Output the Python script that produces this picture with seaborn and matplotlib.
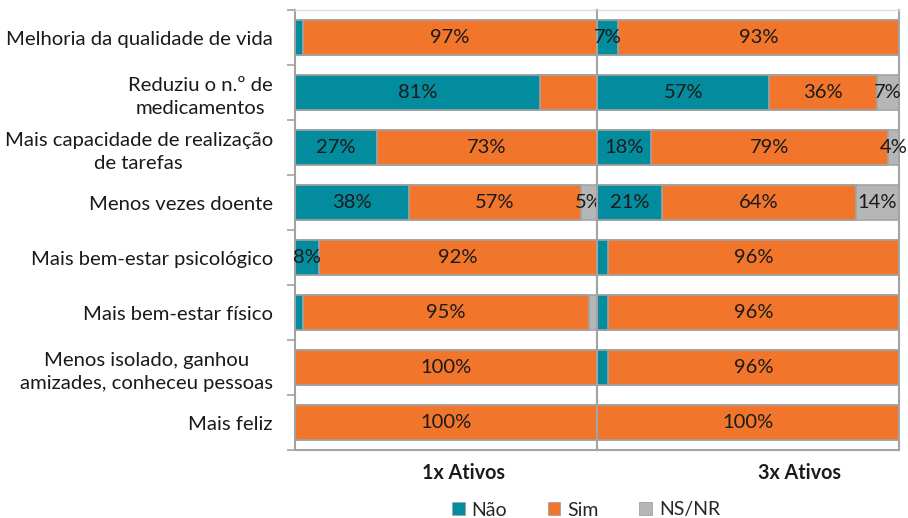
import numpy as np
import seaborn as sns
import matplotlib.pyplot as plt
from matplotlib.patches import Patch

categories = ["Melhoria da qualidade de vida",
              "Reduziu o n.º de\nmedicamentos",
              "Mais capacidade de realização\nde tarefas",
              "Menos vezes doente",
              "Mais bem-estar psicológico",
              "Mais bem-estar físico",
              "Menos isolado, ganhou\namizades, conheceu pessoas",
              "Mais feliz"]

groups = ["1x Ativos", "3x Ativos"]
series = ["Não", "Sim", "NS/NR"]

nao_1x = [2.7, 81.1, 27.0, 37.8, 8.1, 2.7, 0.0, 0.0]
sim_1x = [97.3, 18.9, 73.0, 56.8, 91.9, 94.6, 100.0, 100.0]
ns_1x = [0.0, 0.0, 0.0, 5.4, 0.0, 2.7, 0.0, 0.0]

nao_3x = [7.1, 57.1, 17.9, 21.4, 3.6, 3.6, 3.6, 0.0]
sim_3x = [92.9, 35.7, 78.6, 64.3, 96.4, 96.4, 96.4, 100.0]
ns_3x = [0.0, 7.1, 3.5, 14.3, 0.0, 0.0, 0.0, 0.0]

# labels Excel left out: (group, series, row)
hidden = {(0, 0, 0), (0, 1, 1), (0, 0, 5), (0, 2, 5),
          (1, 0, 4), (1, 0, 5), (1, 0, 6)}

colors = ["#038b9e", "#f1762b", "#b4b6b8"]
edge = "#a3a3a3"

sns.set_style("white")
plt.rcParams["font.family"] = ["Lato", "DejaVu Sans"]

fig = plt.figure(figsize=(9.08, 5.18), dpi=100)
W, H = 908, 518
ax1 = fig.add_axes([295 / W, (H - 450) / H, 302 / W, 440 / H])
ax2 = fig.add_axes([597 / W, (H - 450) / H, 302 / W, 440 / H])

data = [[nao_1x, sim_1x, ns_1x], [nao_3x, sim_3x, ns_3x]]
rows = np.arange(len(categories))

for g, ax in enumerate([ax1, ax2]):
    vals = np.array(data[g])
    cum = vals.cumsum(axis=0)
    # draw totals first, then overlay shorter stacks
    for s in [2, 1, 0]:
        sns.barplot(x=cum[s], y=categories, orient="h", color=colors[s],
                    saturation=1, width=0.62, edgecolor=edge, linewidth=1.2,
                    errorbar=None, ax=ax)
    for s in range(3):
        left = cum[s] - vals[s]
        for r in rows:
            v = vals[s][r]
            if v <= 0 or (g, s, r) in hidden:
                continue
            ax.text(left[r] + v / 2, r, f"{round(v)}%", ha="center", va="center",
                    fontsize=14.5, color="#1a1a1a")
    ax.set_xlim(0, 100)
    ax.set_ylim(len(categories) - 0.5, -0.5)
    ax.set_xlabel("")
    ax.set_ylabel("")
    ax.set_xticks([0, 100])
    ax.set_xticklabels([])
    ax.tick_params(axis="x", length=8, width=1.2, color=edge, direction="out")
    ax.set_yticks(np.arange(-0.5, len(categories), 1), minor=True)
    ax.tick_params(axis="y", which="minor", length=6, width=1.2, color=edge,
                   left=(g == 0))
    ax.tick_params(axis="y", which="major", length=0, pad=16)
    for side in ["left", "right", "bottom"]:
        ax.spines[side].set_visible(True)
        ax.spines[side].set_color(edge)
        ax.spines[side].set_linewidth(1.5)
    ax.spines["top"].set_visible(True)
    ax.spines["top"].set_color("#dcdcdc")
    ax.spines["top"].set_linewidth(1)

ax1.set_yticks(rows)
ax1.set_yticklabels(categories, fontsize=14.6, multialignment="center",
                    color="#1a1a1a", linespacing=1.4)
ax2.set_yticks(rows)
ax2.set_yticklabels([])

fig.text(463 / W, 1 - 473 / H, groups[0], ha="center", va="center",
         fontsize=14.2, fontweight="bold", color="#1a1a1a")
fig.text(800 / W, 1 - 473 / H, groups[1], ha="center", va="center",
         fontsize=14.2, fontweight="bold", color="#1a1a1a")

handles = [Patch(facecolor=c, edgecolor=edge, linewidth=0.6) for c in colors]
fig.legend(handles, series, loc="center", bbox_to_anchor=(586 / W, 1 - 510 / H),
           ncol=3, frameon=False, fontsize=14, handlelength=0.65,
           handleheight=0.65, handletextpad=0.35, columnspacing=2.1)

fig.savefig("out.png", dpi=100)
